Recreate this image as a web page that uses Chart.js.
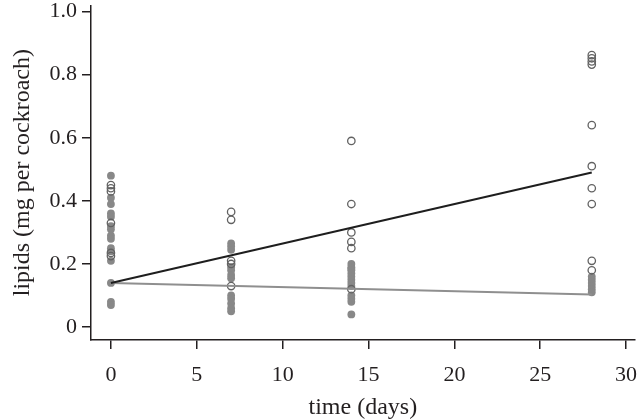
<!DOCTYPE html>
<html>
<head>
<meta charset="utf-8">
<script src="https://cdn.jsdelivr.net/npm/chart.js@4"></script>
<style>
  html, body { margin: 0; padding: 0; background: #fff; }
  #wrap { width: 640px; height: 420px; }
</style>
</head>
<body>
<div id="wrap"><canvas id="lipidChart" width="640" height="420"></canvas></div>
<script>
// open circles (per sampling day)
const open0  = [0.45, 0.44, 0.43, 0.33, 0.235, 0.225];
const open7  = [0.365, 0.34, 0.21, 0.20, 0.13];
const open14 = [0.59, 0.39, 0.30, 0.27, 0.25, 0.12];
const open28 = [0.862, 0.852, 0.842, 0.832, 0.64, 0.51, 0.44, 0.39, 0.21, 0.18];

// filled grey circles
const filled0  = [0.48, 0.41, 0.39, 0.36, 0.35, 0.32, 0.31, 0.29, 0.28, 0.25, 0.24, 0.21, 0.14, 0.08, 0.07];
const filled7  = [0.265, 0.255, 0.245, 0.19, 0.18, 0.165, 0.155, 0.10, 0.09, 0.075, 0.06, 0.05];
const filled14 = [0.20, 0.19, 0.185, 0.18, 0.17, 0.16, 0.15, 0.14, 0.13, 0.10, 0.09, 0.08, 0.04];
const filled28 = [0.16, 0.15, 0.14, 0.13, 0.12, 0.11];

// fitted lines
const lineDays  = [0, 28];
const blackLine = [0.14, 0.49];
const greyLine  = [0.14, 0.103];

const xTicks = [0, 5, 10, 15, 20, 25, 30];
const yTicks = [0, 0.2, 0.4, 0.6, 0.8, 1.0];

const ink = '#231f20';
const serif = '"Liberation Serif", "Times New Roman", Tinos, Times, serif';

function toPoints(day, values) {
    return values.map(v => ({ x: day, y: v }));
}

const openPoints = [].concat(
    toPoints(0, open0), toPoints(7, open7), toPoints(14, open14), toPoints(28, open28));
const filledPoints = [].concat(
    toPoints(0, filled0), toPoints(7, filled7), toPoints(14, filled14), toPoints(28, filled28));

const ctx = document.getElementById('lipidChart').getContext('2d');
new Chart(ctx, {
    type: 'scatter',
    data: {
        datasets: [
            {
                label: 'open',
                data: openPoints,
                pointRadius: 3.7,
                pointBorderWidth: 1.3,
                borderColor: '#626262',
                backgroundColor: 'rgba(255,255,255,0)',
                order: 1
            },
            {
                label: 'filled',
                data: filledPoints,
                pointRadius: 3.9,
                pointBorderWidth: 0,
                borderColor: '#888888',
                backgroundColor: '#888888',
                order: 2
            },
            {
                label: 'fit open',
                type: 'line',
                data: lineDays.map((d, i) => ({ x: d, y: blackLine[i] })),
                borderColor: '#1e1e1e',
                borderWidth: 2,
                pointRadius: 0,
                fill: false,
                order: 0
            },
            {
                label: 'fit filled',
                type: 'line',
                data: lineDays.map((d, i) => ({ x: d, y: greyLine[i] })),
                borderColor: '#8f8f8f',
                borderWidth: 2,
                pointRadius: 0,
                fill: false,
                order: 0
            }
        ]
    },
    options: {
        responsive: false,
        animation: false,
        layout: { padding: { top: 5, right: 4, left: 0, bottom: 0 } },
        plugins: {
            legend: { display: false },
            tooltip: { enabled: false }
        },
        scales: {
            x: {
                type: 'linear',
                min: -1.16,
                max: 30.5,
                afterBuildTicks: scale => { scale.ticks = xTicks.map(v => ({ value: v })); },
                afterFit: scale => {
                    scale.height = 80;
                    scale.paddingLeft = 0;
                    scale.paddingRight = 0;
                },
                border: { display: true, color: ink, width: 1.5 },
                grid: { drawOnChartArea: false, drawTicks: true, tickLength: 9, color: ink, lineWidth: 1.5 },
                ticks: { color: ink, font: { family: serif, size: 22 }, padding: 13, maxRotation: 0 },
                title: {
                    display: true,
                    text: 'time (days)',
                    color: ink,
                    font: { family: serif, size: 24, lineHeight: 1 },
                    padding: { top: 0, bottom: 0 }
                }
            },
            y: {
                type: 'linear',
                min: -0.041,
                max: 1.02,
                afterBuildTicks: scale => { scale.ticks = yTicks.map(v => ({ value: v })); },
                afterFit: scale => {
                    scale.width = 91;
                    scale.paddingTop = 0;
                    scale.paddingBottom = 0;
                },
                border: { display: true, color: ink, width: 1.5 },
                grid: { drawOnChartArea: false, drawTicks: true, tickLength: 9, color: ink, lineWidth: 1.5 },
                ticks: {
                    color: ink,
                    font: { family: serif, size: 22 },
                    padding: 5,
                    callback: v => (v === 0 ? '0' : v.toFixed(1))
                },
                title: {
                    display: true,
                    text: 'lipids (mg per cockroach)',
                    color: ink,
                    font: { family: serif, size: 24 },
                    padding: { top: 8, bottom: 0 }
                }
            }
        }
    }
});
</script>
</body>
</html>
